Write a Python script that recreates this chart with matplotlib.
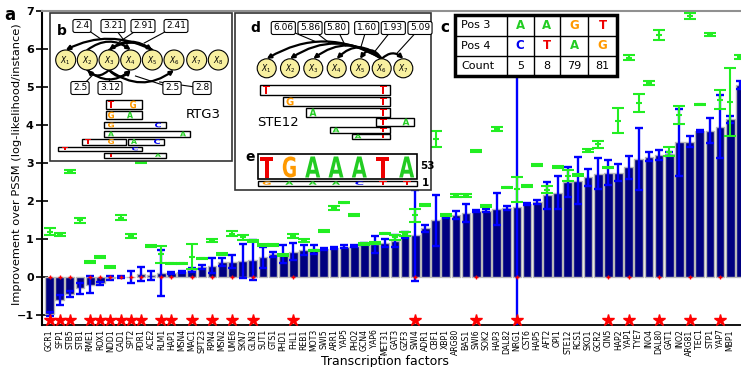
import matplotlib
matplotlib.use("Agg")
import matplotlib.pyplot as plt
import matplotlib.transforms as mtrans
from matplotlib.patches import Rectangle, Circle, FancyArrowPatch, PathPatch
from matplotlib.textpath import TextPath
from matplotlib.font_manager import FontProperties

# ---- data -----------------------------------------------------------------
TFS = ["GCR1", "SFP1", "STB5", "STB1", "RME1", "ROX1", "NDD1", "CAD1", "SPT2", "PDR1",
       "ACE2", "RLM1", "HAP1", "MSN4", "MAC1", "SPT23", "RPN4", "MSN2", "UME6", "SKN7",
       "GLN3", "SUT1", "GTS1", "PHD1", "FHL1", "REB1", "MOT3", "SWI5", "ARR1", "YAP5",
       "PHO2", "GCN4", "YAP6", "MET31", "GAT3", "GZF3", "SWI4", "ADR1", "CBF1", "XBP1",
       "ARG80", "BAS1", "SWI6", "SOK2", "HAP3", "DAL82", "NRG1", "CST6", "HAP5", "AFT2",
       "OPI1", "STE12", "RCS1", "SKO1", "GCR2", "CIN5", "HAP2", "YAP1", "TYE7", "INO4",
       "DAL80", "GAT1", "INO2", "ARG81", "TEC1", "STP1", "YAP7", "MBP1", ""]

IMPROVE = [-0.98, -0.60, -0.45, -0.30, -0.20, -0.17, -0.03, 0.00, 0.00, 0.08,
           0.05, 0.10, 0.10, 0.14, 0.18, 0.27, 0.30, 0.40, 0.40, 0.42,
           0.45, 0.52, 0.60, 0.60, 0.67, 0.72, 0.73, 0.74, 0.77, 0.80,
           0.82, 0.86, 0.86, 0.90, 0.95, 1.10, 1.10, 1.28, 1.49, 1.59,
           1.63, 1.68, 1.74, 1.75, 1.80, 1.82, 1.85, 1.92, 1.98, 2.15,
           2.22, 2.50, 2.53, 2.62, 2.72, 2.75, 2.75, 2.89, 3.10, 3.16,
           3.21, 3.24, 3.54, 3.56, 3.84, 3.85, 3.96, 4.15, 5.05]
IMPROVE_ERR = [0.05, 0.13, 0.07, 0.15, 0.23, 0.04, 0.06, 0.03, 0.15, 0.18,
               0.12, 0.60, 0.03, 0.03, 0.05, 0.05, 0.20, 0.10, 0.17, 0.45,
               0.53, 0.28, 0.07, 0.24, 0.22, 0.13, 0.12, 0.03, 0.03, 0.03,
               0.03, 0.03, 0.22, 0.10, 0.15, 0.08, 1.20, 0.10, 0.67, 0.05,
               0.10, 0.24, 0.03, 0.03, 0.42, 0.06, 4.00, 0.03, 0.05, 0.36,
               0.44, 0.39, 0.62, 0.23, 0.40, 0.32, 0.23, 0.30, 0.82, 0.12,
               0.12, 0.05, 0.89, 0.14, 0.03, 0.33, 0.84, 0.10, 0.10]

ALT = [1.19, 1.13, 2.77, 1.49, 0.39, 0.52, 0.27, 1.56, 1.07, 3.03,
       0.82, 0.60, 0.36, 0.36, 0.53, 0.49, 0.97, 0.60, 1.14, 1.04,
       0.95, 0.85, 0.85, 0.58, 1.08, 0.95, 0.70, 1.21, 1.81, 1.96,
       1.63, 0.87, 0.90, 1.15, 1.04, 1.13, 1.63, 1.89, 3.63, 1.63,
       2.14, 2.14, 3.32, 1.87, 3.90, 2.36, 2.31, 2.39, 2.95, 2.30,
       2.89, 2.67, 2.68, 3.32, 3.49, 2.88, 4.11, 5.77, 4.58, 5.11,
       6.38, 3.30, 4.26, 6.88, 4.54, 6.39, 4.67, 4.60, 5.78]
ALT_ERR = [0.09, 0.04, 0.04, 0.06, 0.02, 0.02, 0.02, 0.06, 0.05, 0.03,
           0.03, 0.22, 0.02, 0.02, 0.33, 0.02, 0.04, 0.02, 0.06, 0.06,
           0.03, 0.03, 0.03, 0.02, 0.06, 0.04, 0.02, 0.02, 0.05, 0.02,
           0.02, 0.02, 0.02, 0.02, 0.06, 0.06, 0.17, 0.03, 0.20, 0.02,
           0.04, 0.04, 0.02, 0.02, 0.06, 0.02, 0.33, 0.02, 0.02, 0.10,
           0.02, 0.14, 0.02, 0.04, 0.10, 0.02, 0.33, 0.06, 0.23, 0.05,
           0.13, 0.12, 0.24, 0.08, 0.02, 0.04, 0.26, 0.90, 0.05]

STARRED = ["GCR1", "SFP1", "STB5", "RME1", "ROX1", "NDD1", "CAD1", "SPT2", "PDR1",
           "RLM1", "HAP1", "MAC1", "RPN4", "UME6", "GLN3", "FHL1", "SWI4", "SWI6",
           "NRG1", "CIN5", "YAP1", "DAL80", "ARG81", "YAP7"]

# inset b (RTG3 network), inset d (STE12 network), table c, logo e
RTG3_TOP = [(4, 0, "2.4"), (4, 2, "3.21"), (1, 3, "2.91"), (2, 4, "2.41")]
RTG3_BOT = [(2, 1, "2.5"), (1, 3, "3.12"), (2, 3, "2.5"), (2, 5, "2.8")]
STE12_ARCS = [(5, 0, "6.06"), (5, 1, "5.86"), (5, 2, "5.80"), (5, 3, "1.60"),
              (5, 4, "1.93"), (5, 6, "5.09")]
TABLE_ROWS = ["Pos 3", "Pos 4", "Count"]
TABLE_POS3 = ["A", "A", "G", "T"]
TABLE_POS4 = ["C", "T", "A", "G"]
TABLE_COUNT = ["5", "8", "79", "81"]
LOGO_TOP = "TGAAATA"
LOGO_BOTTOM = "GAAACTT"
LOGO_COUNTS = ["53", "1"]

BASE_COL = {"A": "#22cc22", "C": "#0000ee", "G": "#ff9900", "T": "#ee0000"}

W, H = 741, 367
fig = plt.figure(figsize=(W / 100, H / 100), dpi=100)
fig.patch.set_facecolor("white")

# ---- main bar chart ---------------------------------------------------------
ax = fig.add_axes([42 / W, (H - 325) / H, (W - 42) / W, (325 - 11) / H])
x = list(range(len(TFS)))
ax.bar(x, IMPROVE, width=0.86, color="#000080", edgecolor="#b8b8b8", lw=1, zorder=2)
ax.errorbar(x, IMPROVE, yerr=IMPROVE_ERR, fmt="none", ecolor="#0000ff",
            elinewidth=1.7, capsize=3.2, capthick=1.7, zorder=3)
ax.errorbar(x, ALT, yerr=ALT_ERR, fmt="_", color="#22ee22", ms=4, mew=1.5,
            elinewidth=1.5, capsize=4.6, capthick=1.8, zorder=4)

star_x = [TFS.index(n) for n in STARRED]
ax.plot(star_x, [-1.13] * len(star_x), ls="none", marker="*", ms=9,
        color="#ff0000", mec="#ff0000", zorder=6, clip_on=False)
ax.plot(star_x, [0] * len(star_x), ls="none", marker="+", ms=3.5, mew=1,
        color="#ff0000", zorder=5)

ax.set_xlim(-0.74, 68.06)
ax.set_ylim(-1.263, 7)
ax.set_xticks(x)
ax.set_xticklabels(TFS, rotation=90, fontsize=5.6)
ax.tick_params(axis="x", which="major", length=0, pad=3)
ax.set_xticks([9, 19, 29, 39, 49, 59], minor=True)
ax.tick_params(axis="x", which="minor", length=9, width=1.2, direction="inout")
ax.set_yticks(range(-1, 8))
ax.tick_params(axis="y", length=8, width=1.2, direction="inout", labelsize=8, pad=2)
for lab in ax.get_yticklabels():
    lab.set_fontweight("bold")
ax.spines["right"].set_visible(False)
ax.spines["top"].set_color("#909090")
ax.spines["top"].set_linewidth(1.5)
ax.spines["left"].set_linewidth(1.5)
ax.spines["bottom"].set_linewidth(1.3)

fig.text(17 / W, 1 - 164 / H, "Improvement over PSSM (log-likelihood/instance)",
         rotation=90, ha="center", va="center", fontsize=8.2)
fig.text(385 / W, 1 - 361 / H, "Transcription factors", ha="center", va="center",
         fontsize=9)
fig.text(10 / W, 1 - 15 / H, "a", ha="center", va="center", fontsize=12,
         fontweight="bold")

# ---- overlay for the insets (pixel coordinates, y down) ----------------------
ov = fig.add_axes([0, 0, 1, 1], zorder=10)
ov.set_xlim(0, W)
ov.set_ylim(H, 0)
ov.axis("off")

FP = FontProperties(family="DejaVu Sans", weight="bold")


def letter(ch, cx, bottom, w, h, color=None):
    tp = TextPath((0, 0), ch, size=10, prop=FP)
    bb = tp.get_extents()
    tr = (mtrans.Affine2D().translate(-bb.x0 - bb.width / 2, -bb.y0)
          .scale(w / bb.width, -h / bb.height).translate(cx, bottom) + ov.transData)
    ov.add_patch(PathPatch(tp, transform=tr, fc=color or BASE_COL[ch], ec="none", zorder=12))


def frame(x0, y0, x1, y1, lw=1.2, ec="#333333"):
    ov.add_patch(Rectangle((x0, y0), x1 - x0, y1 - y0, fc="white", ec=ec, lw=lw, zorder=10))


def seq_row(x0, x1, y0, y1, marks, lw_=1.0, lw=6):
    ov.add_patch(Rectangle((x0, y0), x1 - x0, y1 - y0, fc="white", ec="black", lw=lw_, zorder=11))
    for ch, cx in marks:
        letter(ch, cx, y1 - 0.6, lw, y1 - y0 - 1.2)


def nodes(xs, yc, r, fs):
    for i, cx in enumerate(xs):
        ov.add_patch(Circle((cx, yc), r, fc="#f8f0a0", ec="black", lw=0.8, zorder=11))
        ov.text(cx, yc + 0.5, r"$X_{%d}$" % (i + 1), ha="center", va="center",
                fontsize=fs, zorder=12)


def arc(xa, xb, y, top, lift):
    sgn = 1 if xa > xb else -1
    rad = sgn * 2 * lift / abs(xa - xb)
    if not top:
        rad = -rad
    ov.add_patch(FancyArrowPatch((xa, y), (xb, y), connectionstyle="arc3,rad=%.3f" % rad,
                                 arrowstyle="-|>", mutation_scale=6, lw=1.6,
                                 color="black", shrinkA=0, shrinkB=0, zorder=11))
    apex = y - lift if top else y + lift
    return (xa + xb) / 2, apex


def weight(s, bx, by, tx, ty):
    ov.plot([bx, tx], [by, ty], color="black", lw=0.8, zorder=11)
    ov.text(bx, by, s, ha="center", va="center", fontsize=6.5, zorder=13,
            bbox=dict(boxstyle="round,pad=0.22", fc="white", ec="black", lw=0.8))


# inset b
frame(50, 13, 232, 161)
ov.text(62, 31, "b", fontsize=10, fontweight="bold", ha="center", va="center", zorder=12)
bx = [65.7, 87.3, 109, 130.7, 152.3, 174, 196.7, 218.3]
by, br = 60, 10
top_lab = [(82, 26), (113, 26), (143, 26), (176, 26)]
top_lift = [11, 8, 8, 7]
for (a, b, s), (lx, ly), lift in zip(RTG3_TOP, top_lab, top_lift):
    mx, my = arc(bx[a], bx[b], by - br, True, lift)
    weight(s, lx, ly, mx + (lx - mx) * 0.3, my)
bot_lab = [(80, 88), (110, 88), (172, 88), (202, 88)]
bot_lift = [5, 9, 6, 12]
for (a, b, s), (lx, ly), lift in zip(RTG3_BOT, bot_lab, bot_lift):
    mx, my = arc(bx[a], bx[b], by + br, False, lift)
    weight(s, lx, ly, mx + (lx - mx) * 0.3, my)
nodes(bx, by, br, 5.5)
rows_b = [(106, 142, 100, 109, [("T", 111), ("G", 133)]),
          (106, 142, 111, 119, [("G", 111), ("A", 130)]),
          (104, 166, 122, 128, [("G", 111), ("C", 158)]),
          (104, 190, 131, 137, [("A", 111), ("A", 183)]),
          (82, 126, 138.5, 144.5, [("T", 88), ("G", 111)]),
          (128, 164, 138.5, 144.5, [("A", 134), ("C", 157)]),
          (58, 142, 146.5, 151, [("T", 65), ("C", 135)]),
          (104, 166, 153, 157.5, [("T", 111), ("A", 158)])]
for r in rows_b:
    seq_row(*r)
ov.text(203, 115, "RTG3", fontsize=9.5, ha="center", va="center", zorder=12)

# inset d / e
frame(235, 13, 431, 190)
ov.text(255, 28, "d", fontsize=10, fontweight="bold", ha="center", va="center", zorder=12)
dx = [266.7, 290, 313.3, 336.7, 360, 381.7, 403.3]
dy, dr = 68.3, 9.5
d_lab = [283.3, 310, 336.7, 366.7, 393.3, 420]
d_lift = [17, 15, 13, 11, 8, 5]
for (a, b, s), lx, lift in zip(STE12_ARCS, d_lab, d_lift):
    mx, my = arc(dx[a], dx[b], dy - dr, True, lift)
    tx = mx + (lx - mx) * 0.2 if b < a else mx + 4
    weight(s, lx, 28, tx, my)
nodes(dx, dy, dr, 5.5)
rows_d = [(260, 390, 85, 95, [("T", 266), ("T", 383)]),
          (283, 390, 97, 106, [("G", 290), ("T", 383)]),
          (306, 390, 108, 117, [("A", 313), ("T", 383)]),
          (376, 414, 118, 126, [("T", 383), ("A", 406)]),
          (330, 390, 127, 133, [("A", 336), ("T", 383)]),
          (352, 390, 134, 139, [("A", 358), ("T", 383)])]
for r in rows_d:
    seq_row(*r, lw=7)
ov.text(257, 123, "STE12", fontsize=9.5, ha="left", va="center", zorder=12)

ov.text(250, 157, "e", fontsize=10, fontweight="bold", ha="center", va="center", zorder=12)
ov.add_patch(Rectangle((258, 154), 159, 25, fc="white", ec="black", lw=1.2, zorder=11))
lx = [266.7, 289.3, 312.7, 336, 359.3, 382.7, 406.7]
for ch, cx in zip(LOGO_TOP, lx):
    letter(ch, cx, 177.5, 13 if ch != "A" else 15, 21)
ov.add_patch(Rectangle((258, 181), 159, 4.5, fc="white", ec="black", lw=1.0, zorder=11))
for ch, cx in zip(LOGO_BOTTOM, lx):
    letter(ch, cx, 184.8, 8, 3.4)
ov.text(420, 166, LOGO_COUNTS[0], fontsize=7.5, fontweight="bold", ha="left", va="center", zorder=12)
ov.text(422, 183, LOGO_COUNTS[1], fontsize=7.5, fontweight="bold", ha="left", va="center", zorder=12)

# table c
ov.text(445, 28, "c", fontsize=11, fontweight="bold", ha="center", va="center", zorder=12)
cols = [455, 507, 533.5, 560, 588, 617]
rows_y = [15, 35.5, 56, 76]
ov.add_patch(Rectangle((cols[0], rows_y[0]), cols[-1] - cols[0], rows_y[-1] - rows_y[0],
                       fc="white", ec="black", lw=2.5, zorder=11))
for cx in cols[1:-1]:
    ov.plot([cx, cx], [rows_y[0], rows_y[-1]], color="black", lw=1, zorder=12)
for ry in rows_y[1:-1]:
    ov.plot([cols[0], cols[-1]], [ry, ry], color="black", lw=1, zorder=12)
for ri, (name, vals) in enumerate(zip(TABLE_ROWS, [TABLE_POS3, TABLE_POS4, TABLE_COUNT])):
    yc = (rows_y[ri] + rows_y[ri + 1]) / 2
    ov.text(cols[0] + 6, yc, name, fontsize=8, ha="left", va="center", zorder=13)
    for ci, v in enumerate(vals):
        xc = (cols[ci + 1] + cols[ci + 2]) / 2
        if v in BASE_COL:
            ov.text(xc, yc, v, fontsize=8.5, fontweight="bold", color=BASE_COL[v],
                    ha="center", va="center", zorder=13)
        else:
            ov.text(xc, yc, v, fontsize=8, ha="center", va="center", zorder=13)

fig.savefig("out.png", dpi=100)
